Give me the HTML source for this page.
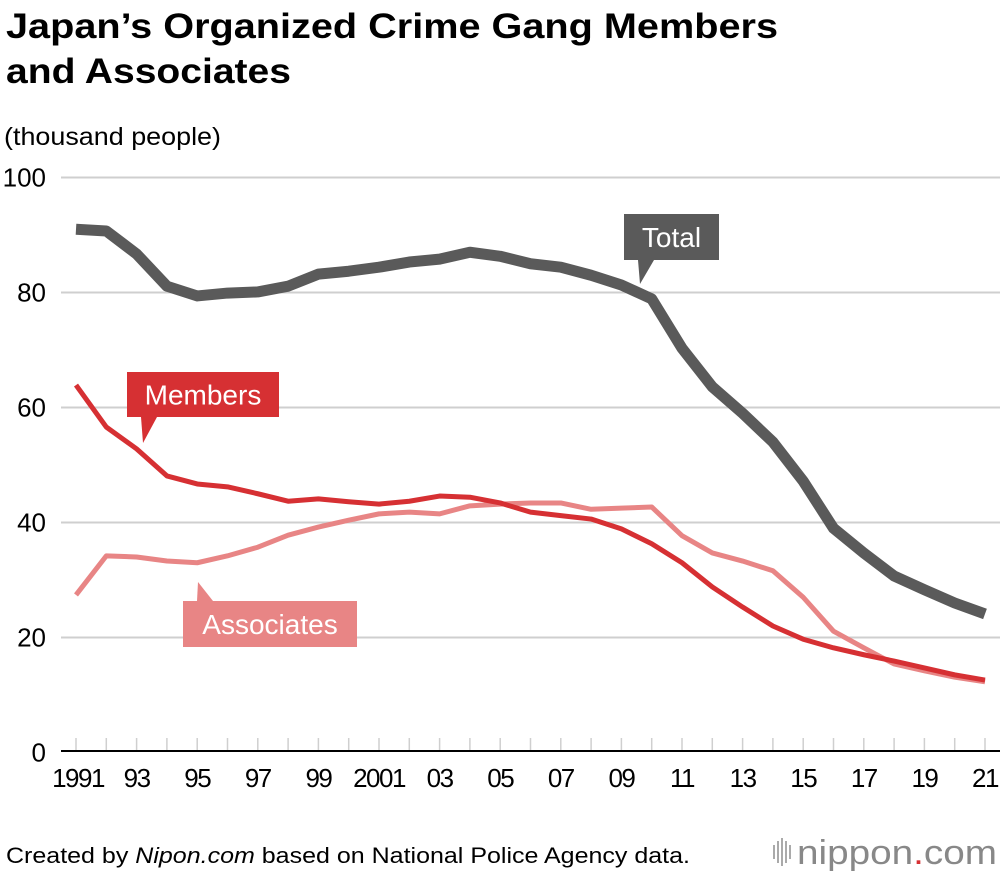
<!DOCTYPE html>
<html><head><meta charset="utf-8"><style>
body{margin:0;background:#fff;font-family:"Liberation Sans",sans-serif;}
svg{display:block}
</style></head><body>
<svg id="c" width="1000" height="874" xmlns="http://www.w3.org/2000/svg">
<text x="6" y="38" font-size="35" font-weight="bold" fill="#000" textLength="772" lengthAdjust="spacingAndGlyphs">Japan’s Organized Crime Gang Members</text>
<text x="6" y="83" font-size="35" font-weight="bold" fill="#000" textLength="285" lengthAdjust="spacingAndGlyphs">and Associates</text>
<text x="4" y="145" font-size="25" fill="#000" textLength="217" lengthAdjust="spacingAndGlyphs">(thousand people)</text>
<g id="grid"></g><g id="lines"></g><g id="labels"></g>
<text x="6" y="863" font-size="22" fill="#000" textLength="684" lengthAdjust="spacingAndGlyphs">Created by <tspan font-style="italic">Nipon.com</tspan> based on National Police Agency data.</text>
<g>
<g fill="#aaa"><rect x="773" y="845" width="2" height="14"/><rect x="777" y="841" width="2" height="22"/><rect x="781" y="838" width="2" height="28"/><rect x="785" y="841" width="2" height="22"/><rect x="789" y="845" width="2" height="14"/></g>
<text x="797" y="864" font-size="34" fill="#888" textLength="200" lengthAdjust="spacingAndGlyphs">nippon<tspan fill="#d63033">.</tspan>com</text>
</g>
</svg>
<script>
const years=[1991,1992,1993,1994,1995,1996,1997,1998,1999,2000,2001,2002,2003,2004,2005,2006,2007,2008,2009,2010,2011,2012,2013,2014,2015,2016,2017,2018,2019,2020,2021];
const totalVals=[91.0,90.7,86.7,81.1,79.4,79.9,80.1,81.1,83.2,83.7,84.4,85.3,85.8,87.0,86.3,85.0,84.4,83.0,81.3,78.9,70.3,63.6,59.0,54.0,47.2,39.0,34.7,30.7,28.3,26.0,24.1];
const memberVals=[63.9,56.6,52.8,48.1,46.7,46.2,45.0,43.7,44.1,43.6,43.2,43.7,44.6,44.4,43.4,41.8,41.2,40.6,38.9,36.3,33.0,28.8,25.3,22.0,19.7,18.2,17.0,15.9,14.7,13.5,12.6];
const associateVals=[27.4,34.2,34.0,33.3,33.0,34.2,35.7,37.8,39.2,40.4,41.5,41.8,41.5,42.9,43.2,43.4,43.4,42.3,42.5,42.7,37.7,34.7,33.3,31.6,27.0,21.1,18.2,15.4,14.2,13.1,12.3];
const yTicks=[0,20,40,60,80,100];
const xTickLabels=["1991","93","95","97","99","2001","03","05","07","09","11","13","15","17","19","21"];
const NS="http://www.w3.org/2000/svg";
const X=y=>76+(y-1991)*(909/30);
const Y=v=>752.5-v*5.75;
function mk(tag,at,parent){const e=document.createElementNS(NS,tag);for(const k in at)e.setAttribute(k,at[k]);parent.appendChild(e);return e;}
const grid=document.getElementById('grid'),lines=document.getElementById('lines'),labels=document.getElementById('labels');
yTicks.forEach(t=>{
 if(t>0){const l=mk('line',{x1:61,x2:1000,y1:Y(t),y2:Y(t),stroke:'#cfcfcf','stroke-width':2},grid);
 
 }
 const tx=mk('text',{x:46,y:Y(t)+9,'text-anchor':'end','font-size':26,fill:'#000'},grid);
 tx.textContent=t;
 
 
});
years.forEach(y=>{const l=mk('line',{x1:X(y),x2:X(y),y1:738,y2:751,stroke:'#cfcfcf','stroke-width':1.5},grid);
 
 });
const base=mk('line',{x1:61,x2:1000,y1:751,y2:751,stroke:'#000','stroke-width':2},grid);


xTickLabels.forEach((s,i)=>{const y=1991+2*i;
 const tx=mk('text',{x:X(y)+(i==0?2:0),y:787,'text-anchor':'middle','font-size':26,fill:'#000','letter-spacing':'-1.5'},grid);
 tx.textContent=s;
 
 });
function series(vals,color,w,name){
 const p=mk('polyline',{points:vals.map((v,i)=>X(years[i])+','+Y(v)).join(' '),fill:'none',stroke:color,'stroke-width':w,'stroke-linejoin':'round'},lines);
 
 }
series(associateVals,'#e88585',5,'associates-line');
series(memberVals,'#d63033',5,'members-line');
series(totalVals,'#5a5a5a',11,'total-line');
function label(x,y,w,h,px,py,color,text,name,up){
 const g=mk('g',{},labels);
 
 
 mk('rect',{x:x,y:y,width:w,height:h,fill:color},g);
 const ty=up?y:y+h;
 mk('polygon',{points:(x+14)+','+ty+' '+(x+30)+','+ty+' '+px+','+py,fill:color},g);
 const t=mk('text',{x:x+w/2,y:y+h/2+10,'text-anchor':'middle','font-size':28,fill:'#fff'},g);
 t.textContent=text;}
label(624,214,95,46,640,284,'#5a5a5a','Total','total-label',false);
label(127,372,152,45,143,443,'#d63033','Members','members-label',false);
label(183,601,174,46,198,582,'#e88585','Associates','associates-label',true);
</script>
</body></html>
